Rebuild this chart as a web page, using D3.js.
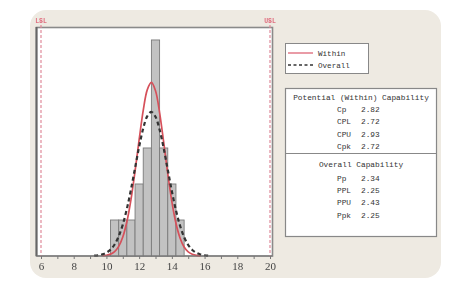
<!DOCTYPE html>
<html><head><meta charset="utf-8">
<script src="https://cdn.jsdelivr.net/npm/d3@7"></script>
<style>html,body{margin:0;padding:0;background:#fff;}svg{display:block;filter:blur(0.45px);}</style>
</head><body>
<svg id="c" width="450" height="284"></svg>
<script>
// ---- data ----
const binEdges = [10.25,10.75,11.25,11.75,12.25,12.75,13.25,13.75,14.25,14.75];
const binCounts = [1,1,1,2,3,6,3,2,1];
const specLimits = [{name:"LSL", value:6},{name:"USL", value:20}];
const withinX = [9.75,10,10.25,10.5,10.75,11,11.25,11.5,11.75,12,12.25,12.5,12.75,13,13.25,13.5,13.75,14,14.25,14.5,14.75,15,15.25,15.5,15.75];
const withinY = [0.007,0.02,0.052,0.123,0.267,0.527,0.951,1.567,2.355,3.23,4.044,4.621,4.82,4.588,3.985,3.16,2.287,1.51,0.91,0.501,0.251,0.115,0.048,0.018,0.006];
const overallX = [9.25,9.5,9.75,10,10.25,10.5,10.75,11,11.25,11.5,11.75,12,12.25,12.5,12.75,13,13.25,13.5,13.75,14,14.25,14.5,14.75,15,15.25,15.5,15.75,16,16.25];
const overallY = [0.009,0.02,0.045,0.092,0.177,0.32,0.546,0.872,1.309,1.846,2.443,3.037,3.545,3.886,4.0,3.866,3.51,2.992,2.394,1.8,1.27,0.842,0.524,0.306,0.168,0.087,0.042,0.019,0.008];
const xTicks = [6,8,10,12,14,16,18,20];
const legendLabels = ["Within","Overall"];
const withinTitle = "Potential (Within) Capability";
const withinStats = [["Cp","2.82"],["CPL","2.72"],["CPU","2.93"],["Cpk","2.72"]];
const overallTitle = "Overall Capability";
const overallStats = [["Pp","2.34"],["PPL","2.25"],["PPU","2.43"],["Ppk","2.25"]];

// ---- drawing ----
const svg = d3.select("#c");
const mono = "'Liberation Mono','DejaVu Sans Mono',monospace";
svg.append("rect").attr("x",30).attr("y",10).attr("width",411).attr("height",268).attr("rx",16)
  .attr("fill","#eeeae2");

const x = d3.scaleLinear().domain([6,20]).range([41,270]);
const y = d3.scaleLinear().domain([0,6.36]).range([256,27]);

// plot frame
svg.append("rect").attr("x",36.5).attr("y",27.5).attr("width",236).attr("height",228.5)
  .attr("fill","#fff").attr("stroke","#8a8a8a").attr("stroke-width",1.6);
svg.append("line").attr("x1",36.5).attr("x2",36.5).attr("y1",27).attr("y2",256)
  .attr("stroke","#666").attr("stroke-width",2);

// bars
const bins = binCounts.map((c,i)=>({x0:binEdges[i],x1:binEdges[i+1],c}));
svg.append("g").selectAll("rect").data(bins).join("rect")
  .attr("x",d=>x(d.x0)).attr("width",d=>x(d.x1)-x(d.x0))
  .attr("y",d=>y(d.c)).attr("height",d=>y(0)-y(d.c))
  .attr("fill","#c2c2c2").attr("stroke","#7a7a7a").attr("stroke-width",0.9);

// spec limit lines
svg.append("g").selectAll("line").data(specLimits).join("line")
  .attr("x1",d=>x(d.value)).attr("x2",d=>x(d.value))
  .attr("y1",20).attr("y2",256)
  .attr("stroke","#e08a9a").attr("stroke-width",1.2).attr("stroke-dasharray","3,2");
svg.append("g").selectAll("text").data(specLimits).join("text")
  .attr("x",d=>x(d.value)).attr("y",23).attr("text-anchor","middle")
  .attr("font-family",mono).attr("font-size",6.5).attr("font-weight","bold").attr("fill","#e07080")
  .text(d=>d.name);

// curves
const line = d3.line().x(d=>x(d[0])).y(d=>y(d[1])).curve(d3.curveCatmullRom);
svg.append("path").datum(withinX.map((v,i)=>[v,withinY[i]])).attr("d",line)
  .attr("fill","none").attr("stroke","#d6505a").attr("stroke-width",1.7);
svg.append("path").datum(overallX.map((v,i)=>[v,overallY[i]])).attr("d",line)
  .attr("fill","none").attr("stroke","#333").attr("stroke-width",2.2).attr("stroke-dasharray","4,3");

// x axis
const axis = d3.axisBottom(x).tickValues(d3.range(6,21,1)).tickSize(3)
  .tickFormat(d=>xTicks.includes(d)?d:"");
const gA = svg.append("g").attr("transform","translate(0,256)").call(axis);
gA.select(".domain").attr("stroke","#777").attr("stroke-width",1.2).attr("d","M36.5,0H272.5");
gA.selectAll(".tick line").attr("stroke","#777");
gA.selectAll(".tick text").attr("font-family","'Liberation Serif',serif").attr("font-size",11)
  .attr("fill","#444").attr("dy","0.75em");

// legend
const lg = svg.append("g");
lg.append("rect").attr("x",285.5).attr("y",43.5).attr("width",83).attr("height",30)
  .attr("fill","#fff").attr("stroke","#888").attr("stroke-width",1);
lg.append("line").attr("x1",288).attr("x2",313).attr("y1",53).attr("y2",53)
  .attr("stroke","#e07080").attr("stroke-width",1.4);
lg.append("line").attr("x1",288).attr("x2",313).attr("y1",65).attr("y2",65)
  .attr("stroke","#333").attr("stroke-width",1.5).attr("stroke-dasharray","3,2.5");
lg.selectAll("text").data(legendLabels).join("text")
  .attr("x",318).attr("y",(d,i)=>53+i*12).attr("dy","0.35em")
  .attr("font-family",mono).attr("font-size",7.6).attr("fill","#333").text(d=>d);

// stats box
const sb = svg.append("g");
sb.append("rect").attr("x",285.5).attr("y",88.5).attr("width",151).attr("height",148)
  .attr("fill","#fff").attr("stroke","#888").attr("stroke-width",1.2);
sb.append("line").attr("x1",285.5).attr("x2",436.5).attr("y1",153.5).attr("y2",153.5)
  .attr("stroke","#888").attr("stroke-width",1.2);
sb.append("text").attr("x",361).attr("y",97).attr("dy","0.35em").attr("text-anchor","middle")
  .attr("font-family",mono).attr("font-size",7.8).attr("fill","#333").text(withinTitle);
sb.append("text").attr("x",361).attr("y",164).attr("dy","0.35em").attr("text-anchor","middle")
  .attr("font-family",mono).attr("font-size",7.8).attr("fill","#333").text(overallTitle);
const rowY1 = [109,121,134,146];
const rowY2 = [178,190,202,215];
function rows(data, ys){
  const g = sb.append("g");
  g.selectAll("text.l").data(data).join("text").attr("class","l")
    .attr("x",337).attr("y",(d,i)=>ys[i]).attr("dy","0.35em")
    .attr("font-family",mono).attr("font-size",7.8).attr("fill","#333").text(d=>d[0]);
  g.selectAll("text.v").data(data).join("text").attr("class","v")
    .attr("x",361).attr("y",(d,i)=>ys[i]).attr("dy","0.35em")
    .attr("font-family",mono).attr("font-size",7.8).attr("fill","#333").text(d=>d[1]);
}
rows(withinStats,rowY1);
rows(overallStats,rowY2);
</script>
</body></html>
